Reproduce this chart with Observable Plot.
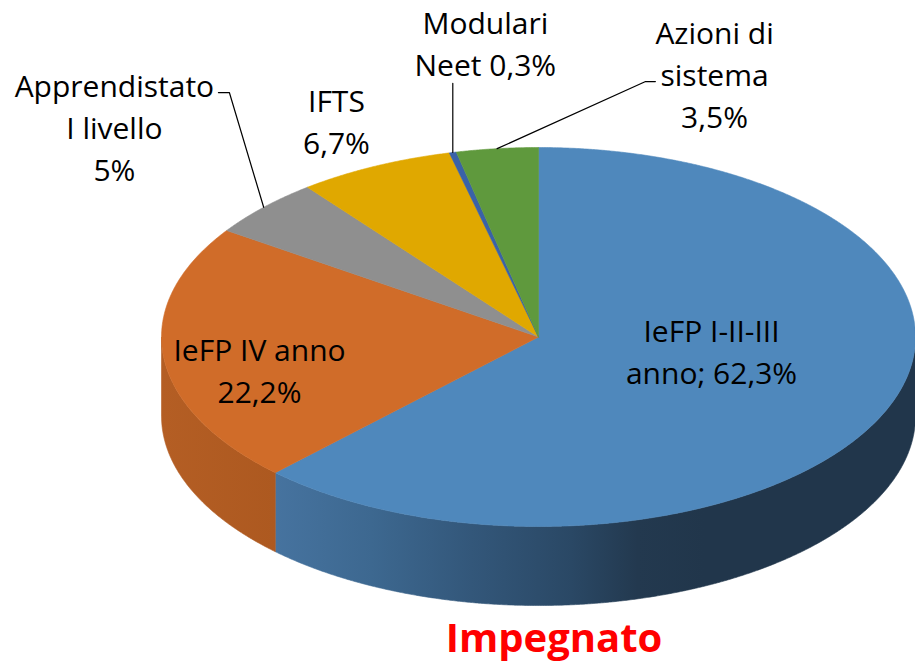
<!DOCTYPE html>
<html><head><meta charset="utf-8">
<script src="https://cdn.jsdelivr.net/npm/d3@7"></script>
<script src="https://cdn.jsdelivr.net/npm/@observablehq/plot@0.6"></script>
<style>
body{margin:0;background:#fff;}
#wrap{position:relative;width:915px;height:666px;overflow:hidden;background:#fff;}
#title{position:absolute;left:554px;top:617px;transform:translateX(-50%);font:700 40px/40px "Open Sans",sans-serif;color:#ff0000;white-space:nowrap;}
</style></head><body>
<div id="wrap"><div id="chart"></div><div id="title">Impegnato</div></div>
<script>
// ---- data ----
const categories = ["IeFP I-II-III anno", "IeFP IV anno", "Apprendistato I livello", "IFTS", "Modulari Neet", "Azioni di sistema"];
const values = [62.3, 22.2, 5, 6.7, 0.3, 3.5];
const valueLabels = ["62,3%", "22,2%", "5%", "6,7%", "0,3%", "3,5%"];
const labelLines = [
  ["IeFP I-II-III", "anno; " + valueLabels[0]],
  ["IeFP IV anno", valueLabels[1]],
  ["Apprendistato", "I livello", valueLabels[2]],
  ["IFTS", valueLabels[3]],
  ["Modulari", "Neet " + valueLabels[4]],
  ["Azioni di", "sistema", valueLabels[5]]
];

// ---- styling / layout ----
const topColors = ["#4f88bc", "#d06c29", "#8f8f8f", "#e0a800", "#3a62a8", "#5f993d"];
const depth = 0.417; // wall thickness in y units
// label centres, in pie units (x: radius 1 horizontally, y: radius 1 vertically)
const labelPos = [[0.459, -0.066], [-0.740, -0.166], [-1.125, 1.116], [-0.536, 1.148], [-0.141, 1.559], [0.467, 1.396]];
// leader lines: slice index -> [elbow, end] points (pie units)
const leaders = {2: [[-0.820, 1.290], [-0.849, 1.290]], 4: [[null, 1.338]], 5: [[0.284, 1.348], [0.310, 1.348]]};

const total = d3.sum(values);
const cum = d3.cumsum(values);
const starts = values.map((v, i) => (cum[i] - v) / total * 2 * Math.PI);
const ends = values.map((v, i) => cum[i] / total * 2 * Math.PI);
const rim = t => ({x: Math.sin(t), y: Math.cos(t)});
function arc(a0, a1) {
  const n = Math.max(2, Math.ceil((a1 - a0) / (Math.PI / 720)));
  return d3.range(n + 1).map(k => rim(a0 + (a1 - a0) * k / n));
}

const marks = [];
// side walls (front half: angles between PI/2 and 3PI/2)
const walls = [];
values.forEach((v, i) => {
  const a0 = Math.max(starts[i], Math.PI / 2), a1 = Math.min(ends[i], 3 * Math.PI / 2);
  if (a1 <= a0) return;
  const up = arc(a0, a1);
  const down = up.map(p => ({x: p.x, y: p.y - depth})).reverse();
  walls.push({i, a0, a1});
  marks.push(Plot.line([...up, ...down, up[0]], {x: "x", y: "y", fill: `url(#wall${i})`, stroke: `url(#wall${i})`, strokeWidth: 0.6}));
});
// top faces
values.forEach((v, i) => {
  const pts = [{x: 0, y: 0}, ...arc(starts[i], ends[i]), {x: 0, y: 0}];
  marks.push(Plot.line(pts, {x: "x", y: "y", fill: topColors[i], stroke: topColors[i], strokeWidth: 0.6, strokeLinejoin: "round"}));
});
// leader lines
Object.entries(leaders).forEach(([k, pts]) => {
  const i = +k, m = rim((starts[i] + ends[i]) / 2);
  const line = [m, ...pts.map(([x, y]) => ({x: x == null ? m.x : x, y}))];
  marks.push(Plot.line(line, {x: "x", y: "y", stroke: "#000", strokeWidth: 1.2}));
});
// labels
const labels = labelLines.map((l, i) => ({x: labelPos[i][0], y: labelPos[i][1], text: l.join("\n")}));
marks.push(Plot.text(labels, {x: "x", y: "y", text: "text", fontSize: 30, lineHeight: 1.4, fill: "#000", fontFamily: "Open Sans"}));

const plot = Plot.plot({
  width: 915, height: 615, margin: 0,
  x: {domain: [-1, 1], range: [161, 915], axis: null},
  y: {domain: [-1, 1], range: [526, 147], axis: null},
  style: {background: "white", fontFamily: "Open Sans"},
  marks
});

// gradients for the walls, positioned with the x scale
const xs = plot.scale("x");
const gradStops = {
  0: [[0, "#46739f"], [0.15, "#3d6890"], [0.306, "#33577a"], [0.462, "#2a4865"], [0.566, "#23394f"], [0.67, "#21364b"], [1, "#21364b"]],
  1: [[0, "#b45e24"], [1, "#ad5920"]]
};
const ns = "http://www.w3.org/2000/svg";
const defs = document.createElementNS(ns, "defs");
walls.forEach(({i, a0, a1}) => {
  const xa = d3.extent(arc(a0, a1), p => p.x);
  const g = document.createElementNS(ns, "linearGradient");
  g.setAttribute("id", `wall${i}`);
  g.setAttribute("gradientUnits", "userSpaceOnUse");
  g.setAttribute("x1", xs.apply(xa[0])); g.setAttribute("x2", xs.apply(xa[1]));
  g.setAttribute("y1", 0); g.setAttribute("y2", 0);
  (gradStops[i] || [[0, topColors[i]], [1, topColors[i]]]).forEach(([o, c]) => {
    const s = document.createElementNS(ns, "stop");
    s.setAttribute("offset", o); s.setAttribute("stop-color", c);
    g.appendChild(s);
  });
  defs.appendChild(g);
});
plot.insertBefore(defs, plot.firstChild);
document.getElementById("chart").appendChild(plot);
</script>
</body></html>
